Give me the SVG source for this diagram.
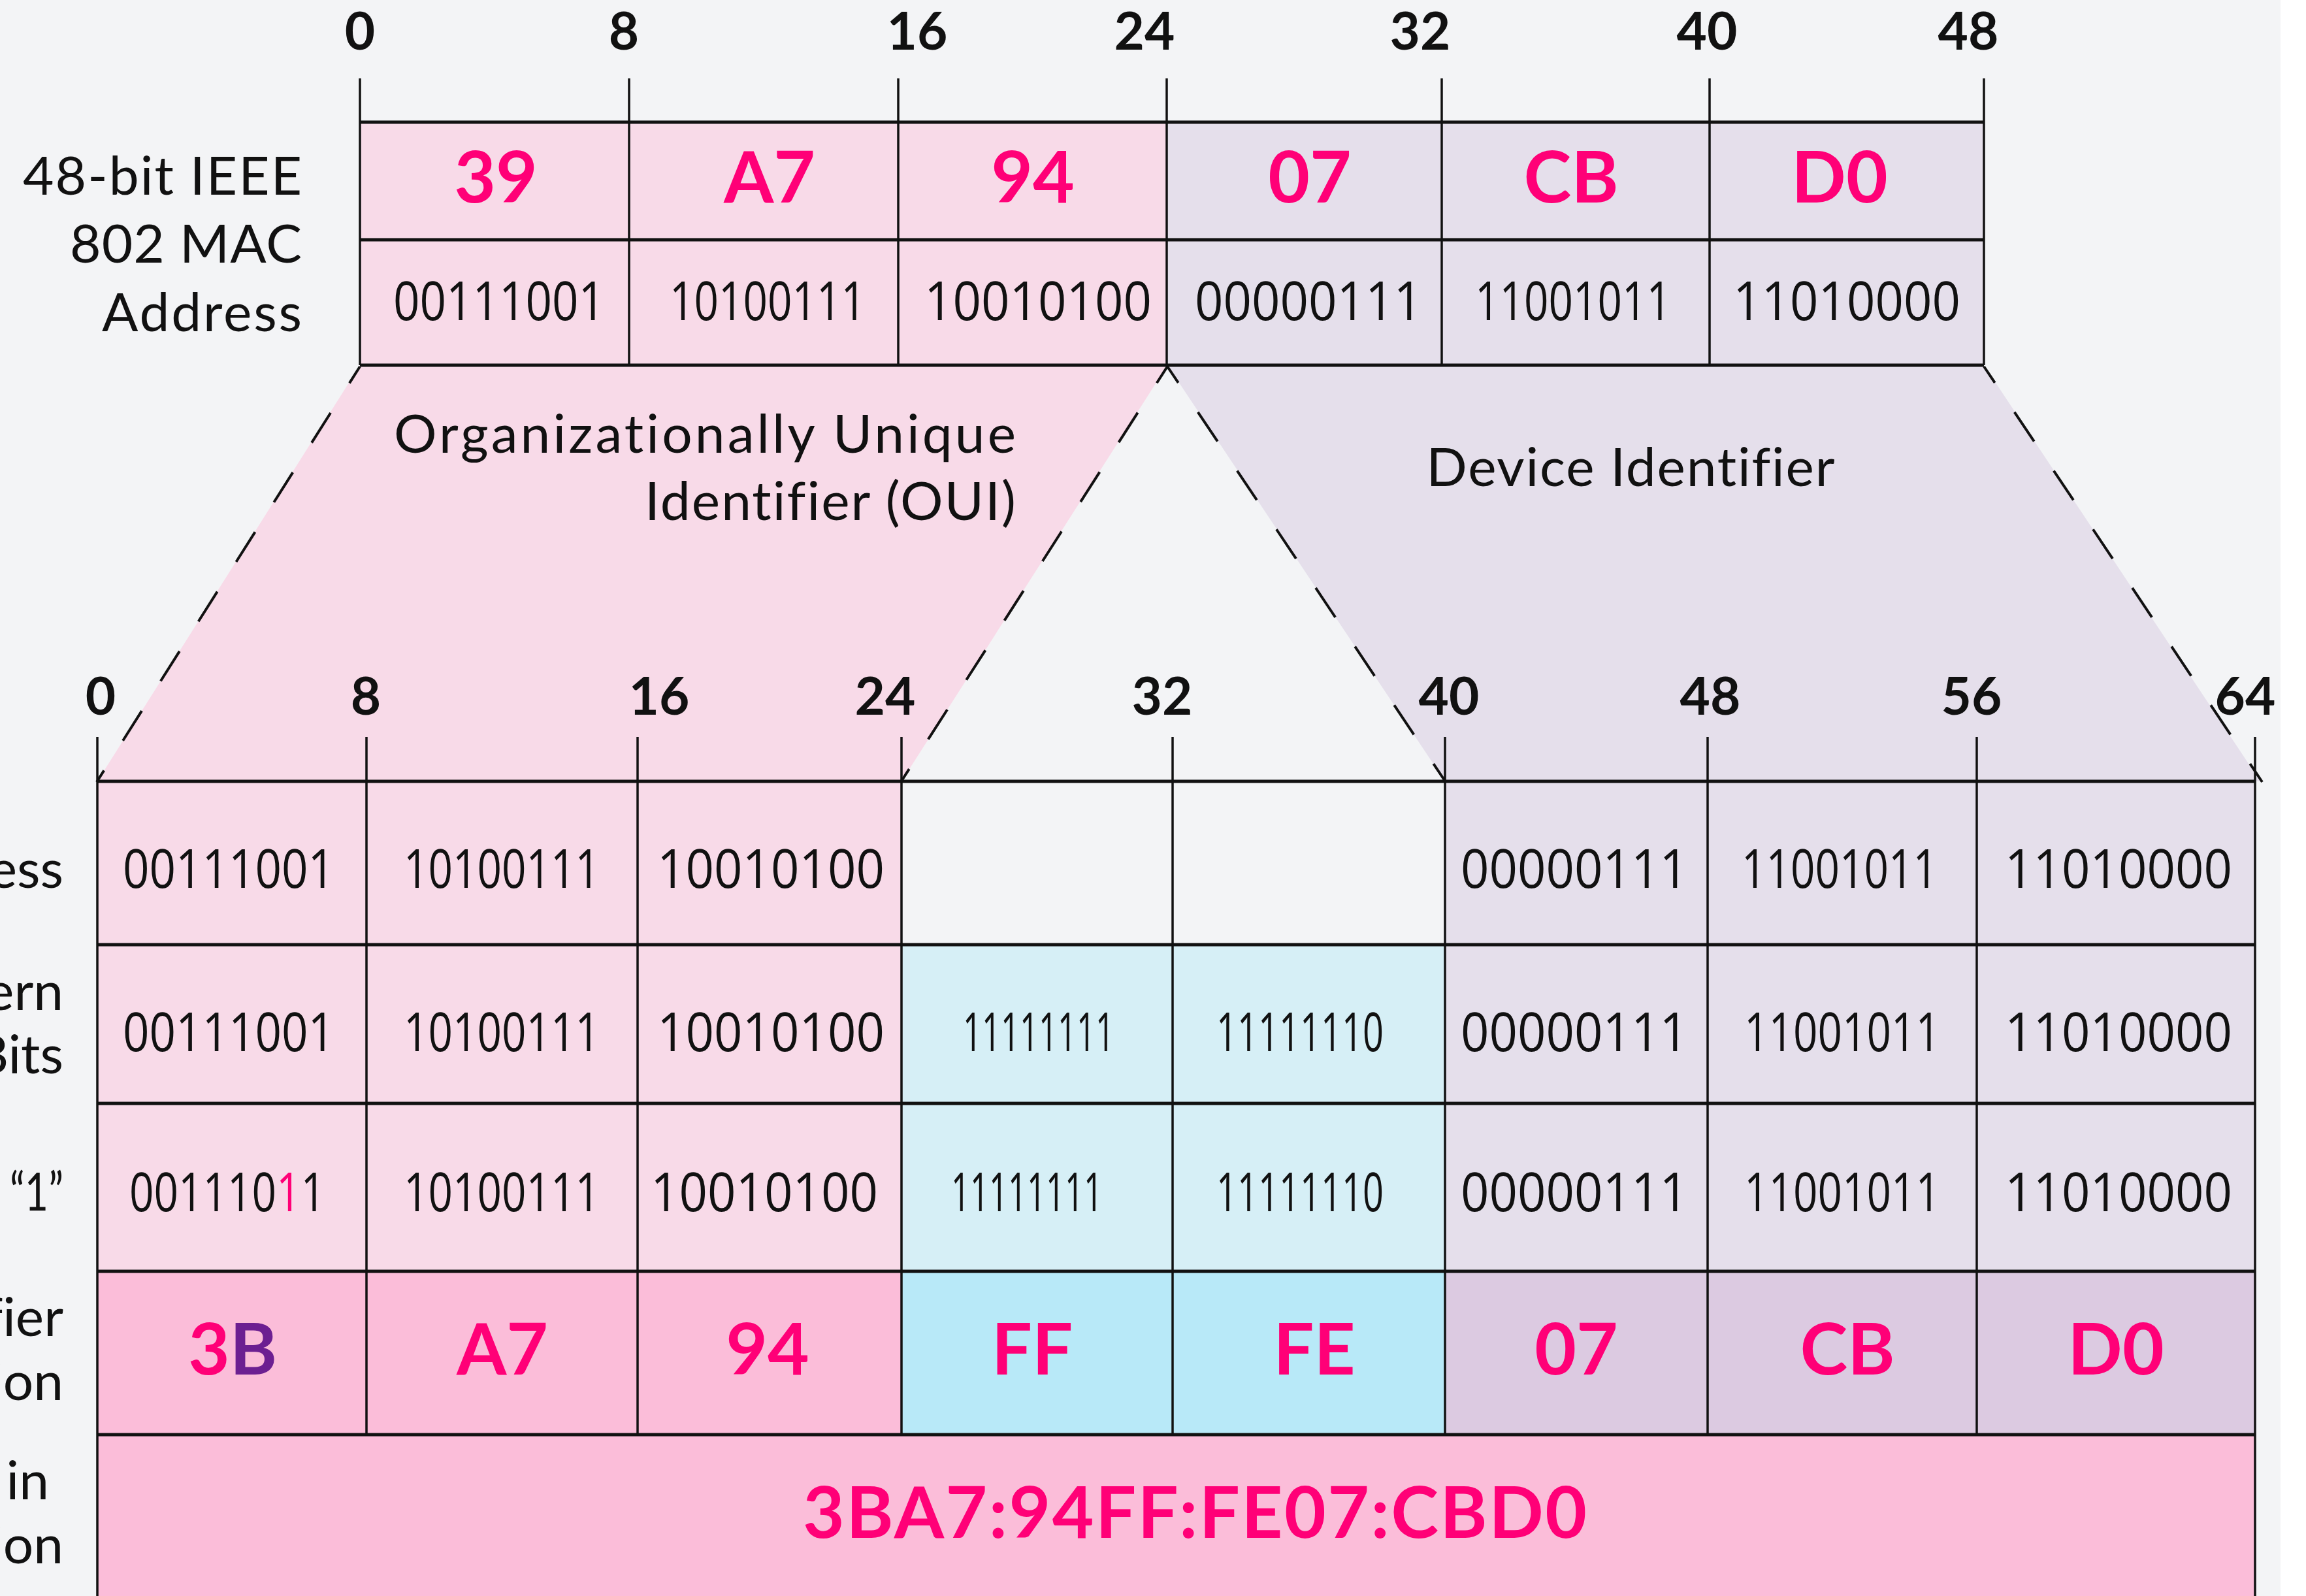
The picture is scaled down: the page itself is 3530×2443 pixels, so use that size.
<svg xmlns="http://www.w3.org/2000/svg" width="3530" height="2443" viewBox="0 0 3530 2443">
<style>
.lbl{font-family:Lato,"Open Sans",sans-serif;font-weight:400;font-size:82px;fill:#111;font-variant-ligatures:none}
.bin{font-family:"Open Sans",Lato,sans-serif;font-weight:400;font-size:82px;fill:#111;text-anchor:middle}
.hex{font-family:Lato,"Open Sans",sans-serif;font-weight:700;font-size:110px;fill:#ff0077;text-anchor:middle}
.num{font-family:Lato,"Open Sans",sans-serif;font-weight:700;font-size:80px;fill:#111;text-anchor:middle}
.h{stroke:#111;stroke-width:5;fill:none}
.v{stroke:#111;stroke-width:3.5;fill:none}
.dash{stroke:#111;stroke-width:4;fill:none;stroke-dasharray:54 54;stroke-dashoffset:24}
.pk{fill:#f8dae8}.lv{fill:#e5dfeb}.bl{fill:#d6eff6}
.hpk{fill:#fbbdd9}.hbl{fill:#b8e9f8}.hlv{fill:#dccae1}
</style>
<rect x="0" y="0" width="3530" height="2443" fill="#f3f4f6"/>
<rect x="3491" y="0" width="39" height="2443" fill="#ffffff"/>

<g id="regions">
<polygon class="pk" points="551,559 1787,559 1380,1196 149,1196"/>
<polygon class="lv" points="1787,559 3037,559 3460,1196 2212,1196"/>
<text class="lbl" x="1555" y="693" text-anchor="end" textLength="952">Organizationally Unique</text>
<text class="lbl" x="1555" y="796" text-anchor="end" textLength="568">Identifier (OUI)</text>
<text class="lbl" x="2496" y="744" text-anchor="middle" textLength="625">Device Identifier</text>
</g>

<g id="mac48">
<rect class="pk" x="551" y="187" width="1235" height="372"/>
<rect class="lv" x="1786" y="187" width="1251" height="372"/>
<text class="lbl" x="462" y="298" text-anchor="end" textLength="427">48-bit IEEE</text>
<text class="lbl" x="462" y="402" text-anchor="end" textLength="355">802 MAC</text>
<text class="lbl" x="462" y="507" text-anchor="end" textLength="306">Address</text>
<g>
<text class="num" x="551" y="76">0</text>
<text class="num" x="955" y="76">8</text>
<text class="num" x="1404" y="76">16</text>
<text class="num" x="1752" y="76">24</text>
<text class="num" x="2174" y="76">32</text>
<text class="num" x="2613" y="76">40</text>
<text class="num" x="3013" y="76">48</text>
</g>
<g>
<text class="hex" x="759" y="310">39</text>
<text class="hex" x="1178" y="310">A7</text>
<text class="hex" x="1581" y="310">94</text>
<text class="hex" x="2005" y="310">07</text>
<text class="hex" x="2405" y="310">CB</text>
<text class="hex" x="2816" y="310">D0</text>
</g>
<g>
<text class="bin" x="764" y="490" textLength="324" lengthAdjust="spacingAndGlyphs">00111001</text>
<text class="bin" x="1175" y="490" textLength="300" lengthAdjust="spacingAndGlyphs">10100111</text>
<text class="bin" x="1589" y="490" textLength="348" lengthAdjust="spacingAndGlyphs">10010100</text>
<text class="bin" x="2003" y="490" textLength="348" lengthAdjust="spacingAndGlyphs">00000111</text>
<text class="bin" x="2408" y="490" textLength="300" lengthAdjust="spacingAndGlyphs">11001011</text>
<text class="bin" x="2827" y="490" textLength="348" lengthAdjust="spacingAndGlyphs">11010000</text>
</g>
<g>
<line class="v" x1="551" y1="120" x2="551" y2="559"/>
<line class="v" x1="963" y1="120" x2="963" y2="559"/>
<line class="v" x1="1375" y1="120" x2="1375" y2="559"/>
<line class="v" x1="1786" y1="120" x2="1786" y2="559"/>
<line class="v" x1="2207" y1="120" x2="2207" y2="559"/>
<line class="v" x1="2617" y1="120" x2="2617" y2="559"/>
<line class="v" x1="3037" y1="120" x2="3037" y2="559"/>
<line class="h" x1="551" y1="187" x2="3037" y2="187"/>
<line class="h" x1="551" y1="367" x2="3037" y2="367"/>
<line class="h" x1="551" y1="559" x2="3037" y2="559"/>
</g>
</g>

<g id="eui64">
<rect class="pk" x="149" y="1196" width="1231" height="750"/>
<rect class="bl" x="1380" y="1446" width="832" height="500"/>
<rect class="lv" x="2212" y="1196" width="1240" height="750"/>
<rect class="hpk" x="149" y="1946" width="1231" height="250"/>
<rect class="hbl" x="1380" y="1946" width="832" height="250"/>
<rect class="hlv" x="2212" y="1946" width="1240" height="250"/>
<rect class="hpk" x="149" y="2196" width="3303" height="247"/>
<g>
<text class="num" x="154" y="1094">0</text>
<text class="num" x="560" y="1094">8</text>
<text class="num" x="1009" y="1094">16</text>
<text class="num" x="1355" y="1094">24</text>
<text class="num" x="1779" y="1094">32</text>
<text class="num" x="2218" y="1094">40</text>
<text class="num" x="2618" y="1094">48</text>
<text class="num" x="3018" y="1094">56</text>
<text class="num" x="3437" y="1094">64</text>
</g>
<g>
<text class="lbl" x="97" y="1359" text-anchor="end">ess</text>
<text class="lbl" x="97" y="1546" text-anchor="end">ern</text>
<text class="lbl" x="97" y="1643" text-anchor="end">Bits</text>
<text class="lbl" x="97" y="1853" text-anchor="end" textLength="82" lengthAdjust="spacingAndGlyphs">“1”</text>
<text class="lbl" x="97" y="2045" text-anchor="end">fier</text>
<text class="lbl" x="97" y="2143" text-anchor="end">ion</text>
<text class="lbl" x="75" y="2295" text-anchor="end">in</text>
<text class="lbl" x="97" y="2393" text-anchor="end">ion</text>
</g>
<g id="row-address">
<text class="bin" x="350" y="1359" textLength="324" lengthAdjust="spacingAndGlyphs">00111001</text>
<text class="bin" x="768" y="1359" textLength="300" lengthAdjust="spacingAndGlyphs">10100111</text>
<text class="bin" x="1180" y="1359" textLength="348" lengthAdjust="spacingAndGlyphs">10010100</text>
<text class="bin" x="2410" y="1359" textLength="348" lengthAdjust="spacingAndGlyphs">00000111</text>
<text class="bin" x="2816" y="1359" textLength="300" lengthAdjust="spacingAndGlyphs">11001011</text>
<text class="bin" x="3243" y="1359" textLength="348" lengthAdjust="spacingAndGlyphs">11010000</text>
</g>
<g id="row-pattern">
<text class="bin" x="350" y="1609" textLength="324" lengthAdjust="spacingAndGlyphs">00111001</text>
<text class="bin" x="768" y="1609" textLength="300" lengthAdjust="spacingAndGlyphs">10100111</text>
<text class="bin" x="1180" y="1609" textLength="348" lengthAdjust="spacingAndGlyphs">10010100</text>
<text class="bin" x="1590" y="1609" textLength="232" lengthAdjust="spacingAndGlyphs">11111111</text>
<text class="bin" x="1990" y="1609" textLength="256" lengthAdjust="spacingAndGlyphs">11111110</text>
<text class="bin" x="2410" y="1609" textLength="348" lengthAdjust="spacingAndGlyphs">00000111</text>
<text class="bin" x="2820" y="1609" textLength="300" lengthAdjust="spacingAndGlyphs">11001011</text>
<text class="bin" x="3243" y="1609" textLength="348" lengthAdjust="spacingAndGlyphs">11010000</text>
</g>
<g id="row-flip">
<text class="bin" transform="translate(348,1854) scale(0.8,1)" x="0" y="0">001110<tspan fill="#ff0077">1</tspan>1</text>
<text class="bin" x="768" y="1854" textLength="300" lengthAdjust="spacingAndGlyphs">10100111</text>
<text class="bin" x="1170" y="1854" textLength="348" lengthAdjust="spacingAndGlyphs">10010100</text>
<text class="bin" x="1572" y="1854" textLength="232" lengthAdjust="spacingAndGlyphs">11111111</text>
<text class="bin" x="1990" y="1854" textLength="256" lengthAdjust="spacingAndGlyphs">11111110</text>
<text class="bin" x="2410" y="1854" textLength="348" lengthAdjust="spacingAndGlyphs">00000111</text>
<text class="bin" x="2820" y="1854" textLength="300" lengthAdjust="spacingAndGlyphs">11001011</text>
<text class="bin" x="3243" y="1854" textLength="348" lengthAdjust="spacingAndGlyphs">11010000</text>
</g>
<g id="row-hex">
<text class="hex" x="356" y="2104">3<tspan fill="#6c1f91">B</tspan></text>
<text class="hex" x="769" y="2104">A7</text>
<text class="hex" x="1175" y="2104">94</text>
<text class="hex" x="1580" y="2104">FF</text>
<text class="hex" x="2012" y="2104">FE</text>
<text class="hex" x="2413" y="2104">07</text>
<text class="hex" x="2828" y="2104">CB</text>
<text class="hex" x="3239" y="2104">D0</text>
</g>
<g id="row-ipv6">
<text class="hex" x="1829" y="2354" textLength="1200">3BA7:94FF:FE07:CBD0</text>
</g>
<g>
<line class="v" x1="149" y1="1128" x2="149" y2="2443"/>
<line class="v" x1="561" y1="1128" x2="561" y2="2196"/>
<line class="v" x1="976" y1="1128" x2="976" y2="2196"/>
<line class="v" x1="1380" y1="1128" x2="1380" y2="2196"/>
<line class="v" x1="1795" y1="1128" x2="1795" y2="2196"/>
<line class="v" x1="2212" y1="1128" x2="2212" y2="2196"/>
<line class="v" x1="2614" y1="1128" x2="2614" y2="2196"/>
<line class="v" x1="3026" y1="1128" x2="3026" y2="2196"/>
<line class="v" x1="3452" y1="1128" x2="3452" y2="2443"/>
<line class="h" x1="149" y1="1196" x2="3452" y2="1196"/>
<line class="h" x1="149" y1="1446" x2="3452" y2="1446"/>
<line class="h" x1="149" y1="1689" x2="3452" y2="1689"/>
<line class="h" x1="149" y1="1946" x2="3452" y2="1946"/>
<line class="h" x1="149" y1="2196" x2="3452" y2="2196"/>
</g>
</g>

<g id="connectors">
<line class="dash" x1="551" y1="561" x2="148" y2="1197"/>
<line class="dash" x1="1787" y1="561" x2="1379" y2="1197"/>
<line class="dash" x1="1787" y1="561" x2="2213" y2="1197"/>
<line class="dash" x1="3037" y1="561" x2="3463" y2="1197"/>
</g>
</svg>
